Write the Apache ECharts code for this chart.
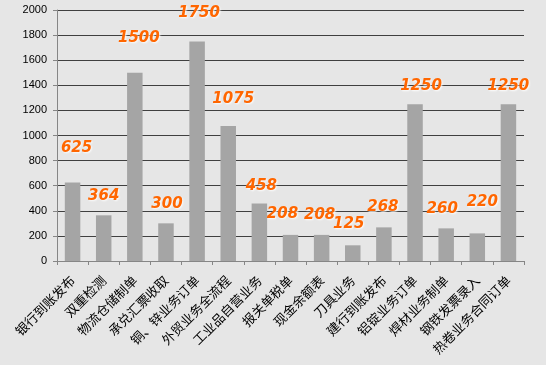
<!DOCTYPE html>
<html>
<head>
<meta charset="utf-8">
<script src="https://cdn.jsdelivr.net/npm/echarts@6/dist/echarts.min.js"></script>
<style>
html,body{margin:0;padding:0;background:#e6e6e6;}
#c{width:546px;height:365px;}
</style>
</head>
<body>
<div id="c"></div>
<script>
var categories = ['银行到账发布','双重检测','物流仓储制单','承兑汇票收取','铜、锌业务订单','外贸业务全流程','工业品自营业务','报关单税单','现金余额表','刀具业务','建行到账发布','铝锭业务订单','焊材业务制单','钢铁发票录入','热卷业务合同订单'];
var values = [625,364,1500,300,1750,1075,458,208,208,125,268,1250,260,220,1250];
var yTicks = [0,200,400,600,800,1000,1200,1400,1600,1800,2000];
// label placement styling (pixels), per bar
var labelLift = [36,21,36,21,30,28,19,22,21,23,22,20,21,33,20];
var labelShift = [4,0,4,1,2,5,2,-8,-2,-4,-1,6,-4,5,0];

var chart = echarts.init(document.getElementById('c'));
var data = values.map(function(v,i){
  return {value:v, label:{offset:[labelShift[i], -(labelLift[i]-9)]}};
});
chart.setOption({
  backgroundColor:'#e6e6e6',
  animation:false,
  grid:{left:57,right:22,top:10,bottom:104},
  xAxis:{
    type:'category',
    data:categories,
    axisLine:{lineStyle:{color:'#868686',width:1}},
    axisTick:{show:true,alignWithLabel:false,length:4,lineStyle:{color:'#868686'}},
    axisLabel:{rotate:45,interval:0,margin:17,color:'#000',fontSize:13,fontFamily:'"Noto Sans CJK SC", sans-serif'}
  },
  yAxis:{
    type:'value',
    min:0,max:2000,interval:200,
    axisLine:{show:true,lineStyle:{color:'#868686'}},
    axisTick:{show:true,length:4,lineStyle:{color:'#868686'}},
    axisLabel:{color:'#000',fontSize:11,fontFamily:'"Liberation Sans", Arial, sans-serif',margin:10,
      formatter:function(v){return yTicks.indexOf(v)>=0?String(v):'';}},
    splitLine:{show:true,lineStyle:{color:'#404040',width:1}}
  },
  series:[{
    type:'bar',
    data:data,
    barWidth:15.5,
    itemStyle:{color:'#a5a5a5'},
    label:{
      show:true,
      position:'top',
      distance:0,
      color:'#ff6600',
      fontSize:15,
      fontWeight:'bold',
      fontStyle:'italic',
      fontFamily:'"DejaVu Sans", Verdana, sans-serif',
      textShadowColor:'rgba(255,255,255,0.9)',
      textShadowBlur:2,
      textShadowOffsetX:1,
      textShadowOffsetY:1
    }
  }]
});
</script>
</body>
</html>
